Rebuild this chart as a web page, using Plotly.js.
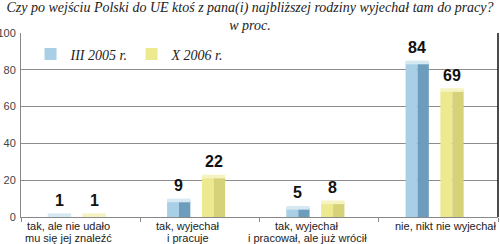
<!DOCTYPE html>
<html><head><meta charset="utf-8">
<script src="https://cdn.plot.ly/plotly-3.0.1.min.js"></script>
<style>html,body{margin:0;padding:0;background:#fff}#chart{width:500px;height:244px}</style>
</head><body><div id="chart"></div>
<script>
const categories = ["tak, ale nie udało<br>mu się jej znaleźć", "tak, wyjechał<br>i pracuje", "tak, wyjechał<br>i pracował, ale już wrócił", "nie, nikt nie wyjechał"];
const seriesNames = ["III 2005 r.", "X 2006 r."];
const values2005 = [1, 9, 5, 84];
const values2006 = [1, 22, 8, 69];
const yTicks = [0, 20, 40, 60, 80, 100];

const styles = [
  {front:'#a8cfe5', side:'#6c9dbd', top:'#d6e9f3', off:-0.275},
  {front:'#ece98f', side:'#d6d27a', top:'#f6f3c2', off:0.017}
];
const seriesVals = [values2005, values2006];
const traces = [];
const annotations = [];
seriesVals.forEach((vals, i) => {
  const s = styles[i];
  traces.push({type:'bar', x:categories, y:vals, name:seriesNames[i], offset:s.off, width:0.1,
    marker:{color:s.front, line:{width:0}}, showlegend:true, legendgroup:'g'+i, hoverinfo:'skip'});
  traces.push({type:'bar', x:categories, y:vals, offset:s.off+0.1, width:0.095,
    marker:{color:s.side, line:{width:0}}, showlegend:false, legendgroup:'g'+i, hoverinfo:'skip'});
  traces.push({type:'bar', x:categories, y:vals.map(()=>2), base:vals.map(v=>Math.max(v-1,0)), offset:s.off, width:0.195,
    marker:{color:s.top, line:{width:0}}, showlegend:false, hoverinfo:'skip'});
  vals.forEach((v, j) => {
    annotations.push({x:categories[j], y:v, xref:'x', yref:'y', text:String(v), showarrow:false,
      xanchor:'center', yanchor:'middle', xshift:(s.off+0.0975)*120, yshift:15,
      font:{family:'Liberation Sans, Arial, sans-serif', size:16, color:'#111', weight:'bold'}});
  });
});
// category labels, one annotation per line, placed under the bar pairs
categories.forEach((c, j) => {
  const last = j === categories.length - 1;
  c.split('<br>').forEach((line, k) => {
    const a = {y:0, yref:'y', text:line, showarrow:false, yanchor:'middle', yshift:-9 - 11.5*k,
      font:{family:'Liberation Sans, Arial, sans-serif', size:11, color:'#222'}};
    if (last) { Object.assign(a, {x:1, xref:'paper', xanchor:'right', xshift:0}); }
    else { Object.assign(a, {x:c, xref:'x', xanchor:'center', xshift:-12}); }
    annotations.push(a);
  });
});

const layout = {
  width:500, height:244,
  margin:{l:21, r:2, t:33, b:27},
  paper_bgcolor:'#fff', plot_bgcolor:'#fff',
  barmode:'overlay',
  title:{text:'Czy po wejściu Polski do UE ktoś z pana(i) najbliższej rodziny wyjechał tam do pracy?<br>w proc.',
    font:{family:'Liberation Serif, Times New Roman, serif', size:14, color:'#222', style:'italic'},
    x:0.5, xref:'container', xanchor:'center', y:0.95, yref:'container', yanchor:'top', pad:{t:0}},
  showlegend:true,
  legend:{orientation:'h', x:0.02, xanchor:'left', y:0.97, yanchor:'top', bgcolor:'rgba(0,0,0,0)',
    font:{family:'Liberation Serif, Times New Roman, serif', size:14, color:'#222', style:'italic'},
    entrywidth:56, traceorder:'normal'},
  xaxis:{type:'category', showgrid:false, showline:true, linecolor:'#888', linewidth:1,
    ticks:'outside', tickson:'boundaries', ticklen:4, tickcolor:'#888', showticklabels:false, fixedrange:true},
  yaxis:{range:[0,100], tickvals:yTicks, ticktext:yTicks.map(String), showgrid:true, gridcolor:'#8c8c8c', gridwidth:1,
    showline:true, linecolor:'#888', zeroline:false, ticks:'', ticklabelstandoff:2,
    tickfont:{family:'Liberation Sans, Arial, sans-serif', size:11, color:'#444'}, fixedrange:true},
  annotations:annotations,
  shapes:[{type:'line', xref:'paper', yref:'paper', x0:1, x1:1, y0:0, y1:1, line:{color:'#111', width:1.5}}]
};
Plotly.newPlot('chart', traces, layout, {displayModeBar:false, staticPlot:true});
</script></body></html>
